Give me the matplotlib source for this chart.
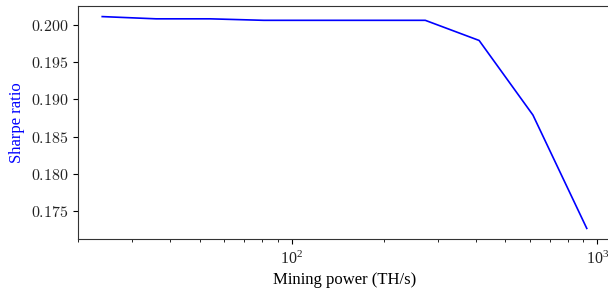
import matplotlib
matplotlib.use("Agg")
import matplotlib.pyplot as plt
from matplotlib.ticker import FormatStrFormatter

plt.rcParams["font.family"] = ["Liberation Serif", "DejaVu Serif"]
plt.rcParams["mathtext.fontset"] = "cm"
plt.rcParams["font.size"] = 11.5

# mining power (TH/s) and resulting Sharpe ratio
power = [24, 36, 54, 81, 121.5, 182.25, 273.4, 410.1, 615.1, 922.6]
sharpe = [0.2011, 0.2008, 0.2008, 0.2006, 0.2006, 0.2006, 0.2006, 0.1979, 0.1879, 0.1727]

fig = plt.figure(figsize=(6.08, 2.9), dpi=100)
ax = fig.add_axes([78 / 608, 51 / 290, 533 / 608, 233 / 290])

ax.plot(power, sharpe, color="blue", lw=1.2)
ax.set_xscale("log")

ax.yaxis.set_major_formatter(FormatStrFormatter("$%.3f$"))
ax.set_yticks([0.175, 0.180, 0.185, 0.190, 0.195, 0.200])

ax.set_xlabel("Mining power (TH/s)", fontsize=12, labelpad=3)
ax.set_ylabel("Sharpe ratio", color="blue", fontsize=12)

for s in ["left", "top", "bottom"]:
    ax.spines[s].set_color("#333333")
ax.spines["right"].set_visible(False)
ax.tick_params(colors="black", labelcolor="#222222")
ax.tick_params(axis="x", which="major", pad=5)

fig.savefig("out.png", dpi=100)
